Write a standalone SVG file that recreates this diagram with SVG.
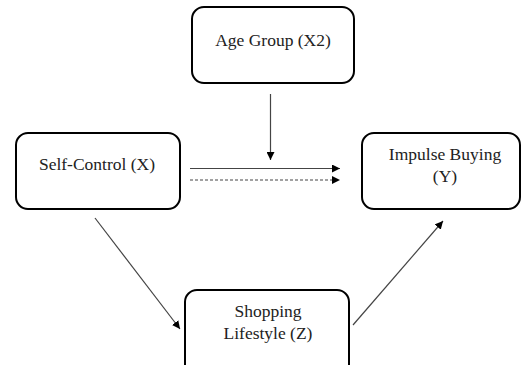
<svg xmlns="http://www.w3.org/2000/svg" width="521" height="365" viewBox="0 0 521 365">
<style>
.box{fill:#fff;stroke:#000;stroke-width:2}
.t{font-family:'Liberation Serif','DejaVu Serif','Times New Roman',serif;font-size:17.5px;fill:#222;text-anchor:middle}
.c{stroke:#444;stroke-width:1.2;fill:none}
</style>
<defs>
<marker id="ah" viewBox="0 0 10 10" refX="10" refY="5" markerWidth="8" markerHeight="8" markerUnits="userSpaceOnUse" orient="auto">
<path d="M0,0 L10,5 L0,10 z" fill="#000"/>
</marker>
</defs>
<rect width="521" height="365" fill="#fff"/>
<g id="age-group">
<rect class="box" x="192" y="7" width="162" height="76" rx="12"/>
<text class="t" x="273" y="46" font-family="Liberation Serif, serif">Age Group (X2)</text>
</g>
<g id="self-control">
<rect class="box" x="16" y="133" width="164" height="76" rx="12"/>
<text class="t" x="97" y="170" font-family="Liberation Serif, serif">Self-Control (X)</text>
</g>
<g id="impulse-buying">
<rect class="box" x="362" y="133" width="158" height="76" rx="12"/>
<text class="t" x="445" y="160" font-family="Liberation Serif, serif">Impulse Buying</text>
<text class="t" x="445" y="182" font-family="Liberation Serif, serif">(Y)</text>
</g>
<g id="shopping-lifestyle">
<rect class="box" x="185" y="290" width="164" height="90" rx="12"/>
<text class="t" x="268" y="317" font-family="Liberation Serif, serif">Shopping</text>
<text class="t" x="268" y="339" font-family="Liberation Serif, serif">Lifestyle (Z)</text>
</g>
<g id="connectors">
<line class="c" x1="270.5" y1="94" x2="270.5" y2="160" marker-end="url(#ah)"/>
<line class="c" x1="190" y1="168.5" x2="340" y2="168.5" marker-end="url(#ah)"/>
<line class="c" x1="190" y1="180" x2="340" y2="180" stroke-dasharray="3,2" marker-end="url(#ah)"/>
<line class="c" x1="95" y1="218" x2="180" y2="329" marker-end="url(#ah)"/>
<line class="c" x1="353" y1="325" x2="443" y2="221" marker-end="url(#ah)"/>
</g>
</svg>
